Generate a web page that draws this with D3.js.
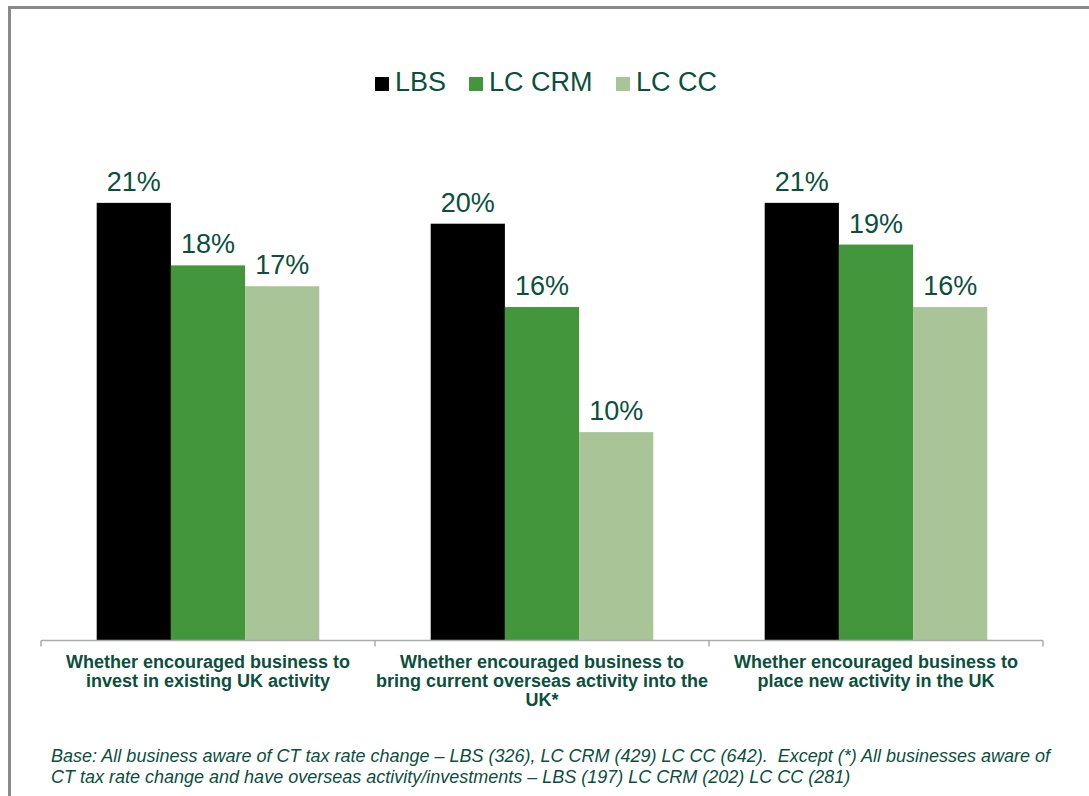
<!DOCTYPE html>
<html>
<head>
<meta charset="utf-8">
<script src="https://cdn.jsdelivr.net/npm/d3@7"></script>
<style>
  html, body { margin: 0; padding: 0; background: #fff; }
  svg { display: block; font-family: Arial, "Liberation Sans", sans-serif; }
</style>
</head>
<body>
<svg id="chart" width="1089" height="796"></svg>
<script>
// Survey results: share of businesses encouraged by the CT rate change
const categories = [
  ["Whether encouraged business to", "invest in existing UK activity"],
  ["Whether encouraged business to", "bring current overseas activity into the", "UK*"],
  ["Whether encouraged business to", "place new activity in the UK"]
];
const seriesNames = ["LBS", "LC CRM", "LC CC"];
const lbsValues = [21, 20, 21];
const lcCrmValues = [18, 16, 19];
const lcCcValues = [17, 10, 16];
const seriesColors = ["#000000", "#43963b", "#a9c598"];
const footnoteLines = [
  "Base: All business aware of CT tax rate change \u2013 LBS (326), LC CRM (429) LC CC (642).  Except (*) All businesses aware of",
  "CT tax rate change and have overseas activity/investments \u2013 LBS (197) LC CRM (202) LC CC (281)"
];

const textColor = "#0b4f3d";
const seriesValues = [lbsValues, lcCrmValues, lcCcValues];

const svg = d3.select("#chart");

// Outer frame (runs off the right and bottom edges)
svg.append("rect")
  .attr("x", 9.5).attr("y", 7.5)
  .attr("width", 1200).attr("height", 900)
  .attr("fill", "none")
  .attr("stroke", "#8a8a8a")
  .attr("stroke-width", 3);

const plot = { left: 41, right: 1043, baseline: 640.5 };

const x0 = d3.scaleBand()
  .domain(d3.range(categories.length))
  .range([plot.left, plot.right])
  .paddingInner(0).paddingOuter(0);

const groupWidth = 222.6;
const x1 = d3.scaleBand()
  .domain(d3.range(seriesNames.length))
  .range([0, groupWidth]);

const y = d3.scaleLinear()
  .domain([0, 25])
  .range([plot.baseline, plot.baseline - 25 * 20.84]);

const groups = svg.append("g").selectAll("g")
  .data(categories.map((c, i) => i))
  .join("g")
  .attr("transform", i => `translate(${x0(i) + (x0.bandwidth() - groupWidth) / 2},0)`);

const cells = groups.selectAll("g.bar")
  .data(i => seriesValues.map((vals, s) => ({ s, v: vals[i] })))
  .join("g").attr("class", "bar");

cells.append("rect")
  .attr("x", d => x1(d.s))
  .attr("y", d => y(d.v))
  .attr("width", x1.bandwidth())
  .attr("height", d => y(0) - y(d.v))
  .attr("fill", d => seriesColors[d.s]);

cells.append("text")
  .attr("x", d => x1(d.s) + x1.bandwidth() / 2)
  .attr("y", d => y(d.v) - 12)
  .attr("text-anchor", "middle")
  .attr("font-size", 27)
  .attr("fill", textColor)
  .text(d => d.v + "%");

// Category axis with boundary ticks
const axis = svg.append("g");
axis.append("line")
  .attr("x1", plot.left).attr("x2", plot.right)
  .attr("y1", plot.baseline).attr("y2", plot.baseline)
  .attr("stroke", "#a9adab").attr("stroke-width", 1.5);
const tickXs = x0.domain().map(i => x0(i)).concat([plot.right]);
axis.selectAll("line.tick")
  .data(tickXs)
  .join("line").attr("class", "tick")
  .attr("x1", d => d).attr("x2", d => d)
  .attr("y1", plot.baseline).attr("y2", plot.baseline + 6)
  .attr("stroke", "#a9adab").attr("stroke-width", 1.5);

axis.selectAll("text.cat")
  .data(categories)
  .join("text").attr("class", "cat")
  .attr("x", (d, i) => x0(i) + x0.bandwidth() / 2)
  .attr("y", 668)
  .attr("text-anchor", "middle")
  .attr("font-size", 18)
  .attr("font-weight", "bold")
  .attr("fill", textColor)
  .selectAll("tspan")
  .data(d => d)
  .join("tspan")
  .attr("x", function () { return d3.select(this.parentNode).attr("x"); })
  .attr("dy", (d, j) => j === 0 ? 0 : 19)
  .text(d => d);

// Legend
const legendX = [375, 469, 616];
const legend = svg.append("g").selectAll("g")
  .data(seriesNames)
  .join("g")
  .attr("transform", (d, i) => `translate(${legendX[i]},77)`);
legend.append("rect")
  .attr("width", 14).attr("height", 14)
  .attr("fill", (d, i) => seriesColors[i]);
legend.append("text")
  .attr("x", 20).attr("y", 14)
  .attr("font-size", 27)
  .attr("fill", textColor)
  .text(d => d);

// Footnote
svg.append("text")
  .attr("x", 51).attr("y", 762)
  .attr("font-size", 18)
  .attr("font-style", "italic")
  .attr("fill", textColor)
  .style("white-space", "pre")
  .selectAll("tspan")
  .data(footnoteLines)
  .join("tspan")
  .attr("x", 51)
  .attr("dy", (d, i) => i === 0 ? 0 : 21)
  .text(d => d);
</script>
</body>
</html>
